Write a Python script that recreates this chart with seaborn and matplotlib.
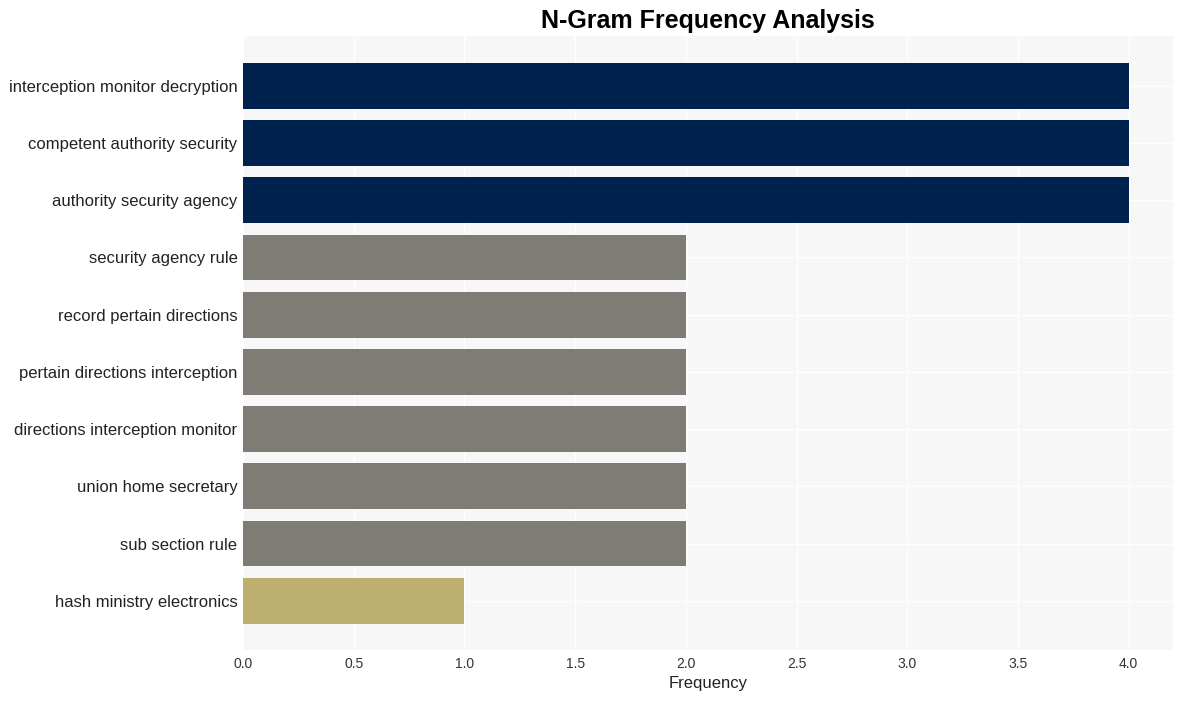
import matplotlib
matplotlib.use("Agg")
import matplotlib.pyplot as plt
import seaborn as sns
import pandas as pd

ngrams = [
    "interception monitor decryption",
    "competent authority security",
    "authority security agency",
    "security agency rule",
    "record pertain directions",
    "pertain directions interception",
    "directions interception monitor",
    "union home secretary",
    "sub section rule",
    "hash ministry electronics",
]
frequency = [4, 4, 4, 2, 2, 2, 2, 2, 2, 1]
bar_colors = ["#00224E", "#00224E", "#00224E", "#7F7C75", "#7F7C75",
              "#7F7C75", "#7F7C75", "#7F7C75", "#7F7C75", "#BCAF6F"]

df = pd.DataFrame({"ngram": ngrams, "freq": frequency})

sns.set_theme(style="darkgrid", rc={
    "axes.facecolor": "#F7F7F7",
    "grid.color": "white",
    "grid.linewidth": 1.0,
})
plt.rcParams["font.family"] = ["Liberation Sans", "DejaVu Sans"]

fig, ax = plt.subplots(figsize=(11.82, 7.01), dpi=100)
fig.subplots_adjust(left=0.2056, right=0.9924, top=0.9486, bottom=0.0728)

sns.barplot(data=df, x="freq", y="ngram", hue="ngram", palette=bar_colors,
            legend=False, width=0.8, saturation=1, linewidth=0, ax=ax)

ax.set_xlim(0, 4.2)
ax.set_ylim(9.86, -0.87)
ax.set_xticks([0, 0.5, 1.0, 1.5, 2.0, 2.5, 3.0, 3.5, 4.0])
ax.set_xticklabels(["0.0", "0.5", "1.0", "1.5", "2.0", "2.5", "3.0", "3.5", "4.0"])
ax.grid(True, axis="both", color="white", linewidth=1.0)
ax.set_axisbelow(True)
ax.tick_params(axis="x", labelsize=10, labelcolor="#333333", pad=5, length=0)
ax.tick_params(axis="y", labelsize=12, labelcolor="#222222", pad=4, length=0)
ax.set_xlabel("Frequency", fontsize=12, color="#222222", labelpad=4)
ax.set_ylabel("")
ax.set_title("N-Gram Frequency Analysis", fontsize=18, fontweight="bold",
             color="black", pad=6)
for s in ax.spines.values():
    s.set_visible(False)

fig.savefig("out.png", dpi=100)
